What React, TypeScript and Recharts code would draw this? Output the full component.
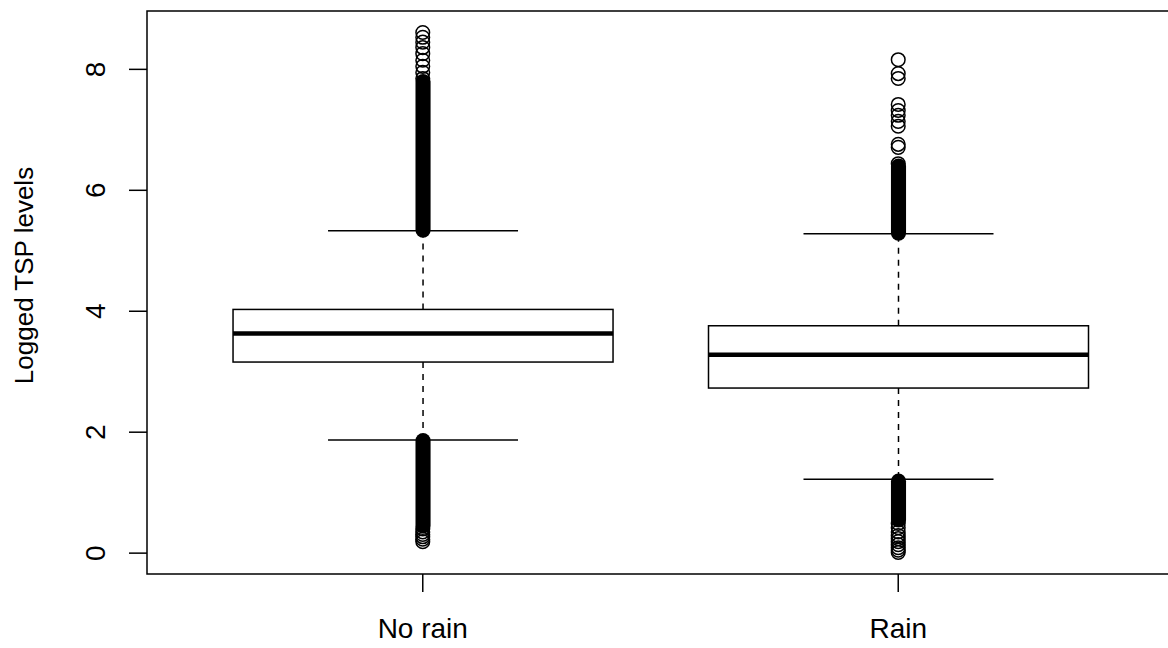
import { ComposedChart, Bar, Scatter, XAxis, YAxis, ReferenceArea, Label } from 'recharts';

const groups = ['No rain', 'Rain'];
const positions = [1, 2];
const lowerWhisker = [1.87, 1.22];
const lowerQuartile = [3.16, 2.73];
const medians = [3.63, 3.28];
const upperQuartile = [4.03, 3.76];
const upperWhisker = [5.33, 5.28];
// outlier runs so dense that the circles merge into one solid column
const denseLow = [[0.45, 1.86], [0.55, 1.19]];
const denseHigh = [[5.34, 7.8], [5.29, 6.4]];
// outliers that are still drawn as separate circles
const noRainOutliers = [0.19, 0.23, 0.27, 0.31, 0.35, 0.4, 7.85, 7.95, 8.05, 8.15, 8.26, 8.36, 8.45, 8.53, 8.61];
const rainOutliers = [0.01, 0.05, 0.09, 0.14, 0.19, 0.24, 0.29, 0.35, 0.42, 0.49, 6.44, 6.71, 6.76, 7.06, 7.14, 7.24, 7.32, 7.42, 7.85, 7.93, 8.16];
const yTicks = [0, 2, 4, 6, 8];
const xDomain = [0.42, 2.58];
const yDomain = [-0.345, 8.965];

const FONT = '"Liberation Sans", Arial, Helvetica, sans-serif';
const RING_R = 6.8;
const LW = 1.5;

const boxRows = groups.map((name, i) => ({
  x: positions[i],
  name,
  box: [lowerQuartile[i], upperQuartile[i]],
  median: medians[i],
  lo: lowerWhisker[i],
  hi: upperWhisker[i],
  denseLow: denseLow[i],
  denseHigh: denseHigh[i],
}));

const outlierSets = [noRainOutliers, rainOutliers].map((vals, i) => vals.map((y) => ({ x: positions[i], y })));

function BoxShape(p: any) {
  const { x, y, width, height, payload } = p;
  const [q1, q3] = payload.box;
  // pixels per unit taken from the bar the library laid out
  const ppu = height / (q3 - q1);
  const py = (v: number) => y + (q3 - v) * ppu;
  const cx = x + width / 2;
  const cap = width / 4;
  const R = RING_R + LW / 2;
  const band = ([a, b]: number[], k: string) => (
    <rect key={k} x={cx - R} y={py(b) - R} width={2 * R} height={py(a) - py(b) + 2 * R} rx={R} ry={R} fill="#000" />
  );
  return (
    <g>
      <line x1={cx} x2={cx} y1={y} y2={py(payload.hi)} stroke="#000" strokeWidth={LW} strokeDasharray="6 6" />
      <line x1={cx} x2={cx} y1={y + height} y2={py(payload.lo)} stroke="#000" strokeWidth={LW} strokeDasharray="6 6" />
      <line x1={cx - cap} x2={cx + cap} y1={py(payload.hi)} y2={py(payload.hi)} stroke="#000" strokeWidth={LW} />
      <line x1={cx - cap} x2={cx + cap} y1={py(payload.lo)} y2={py(payload.lo)} stroke="#000" strokeWidth={LW} />
      <rect x={x} y={y} width={width} height={height} fill="#fff" stroke="#000" strokeWidth={LW} />
      <line x1={x} x2={x + width} y1={py(payload.median)} y2={py(payload.median)} stroke="#000" strokeWidth={4.5} />
      {band(payload.denseLow, 'l')}
      {band(payload.denseHigh, 'h')}
    </g>
  );
}

const Ring = (p: any) => <circle cx={p.cx} cy={p.cy} r={RING_R} fill="none" stroke="#000" strokeWidth={LW} />;

const XTick = (p: any) => (
  <text x={p.x} y={p.y} dy={46} textAnchor="middle" fontFamily={FONT} fontSize={28} fill="#000">
    {groups[positions.indexOf(p.payload.value)]}
  </text>
);

const YTick = (p: any) => (
  <text x={p.x - 24} y={p.y} transform={`rotate(-90, ${p.x - 24}, ${p.y})`} textAnchor="middle" fontFamily={FONT} fontSize={28} fill="#000">
    {p.payload.value}
  </text>
);

const YTitle = (p: any) => {
  const vb = p.viewBox;
  const cy = vb.y + vb.height / 2 - 17;
  return (
    <text x={33} y={cy} transform={`rotate(-90, 33, ${cy})`} textAnchor="middle" fontFamily={FONT} fontSize={26} fill="#000">
      Logged TSP levels
    </text>
  );
};

export default function App() {
  return (
    <div style={{ position: 'fixed', left: 0, top: 0, width: 1168, height: 648, overflow: 'hidden', background: '#fff' }}>
      <ComposedChart width={1174} height={648} data={boxRows} margin={{ top: 11, right: 0, bottom: 0, left: 0 }}>
        <XAxis
          type="number"
          dataKey="x"
          domain={xDomain}
          ticks={positions}
          interval={0}
          allowDataOverflow
          height={74}
          tickSize={18}
          tickMargin={0}
          axisLine={false}
          tickLine={{ stroke: '#000', strokeWidth: LW }}
          tick={<XTick />}
        />
        <YAxis
          type="number"
          domain={yDomain}
          ticks={yTicks}
          interval={0}
          allowDataOverflow
          width={147}
          tickSize={18}
          tickMargin={0}
          axisLine={false}
          tickLine={{ stroke: '#000', strokeWidth: LW }}
          tick={<YTick />}
        >
          <Label content={<YTitle />} />
        </YAxis>
        <ReferenceArea x1={xDomain[0]} x2={xDomain[1]} y1={yDomain[0]} y2={yDomain[1]} fill="none" stroke="#000" strokeWidth={LW} ifOverflow="visible" />
        <Bar dataKey="box" barSize={380} shape={BoxShape} isAnimationActive={false} />
        {outlierSets.map((pts, i) => (
          <Scatter key={groups[i]} data={pts} dataKey="y" shape={Ring} isAnimationActive={false} />
        ))}
      </ComposedChart>
    </div>
  );
}
